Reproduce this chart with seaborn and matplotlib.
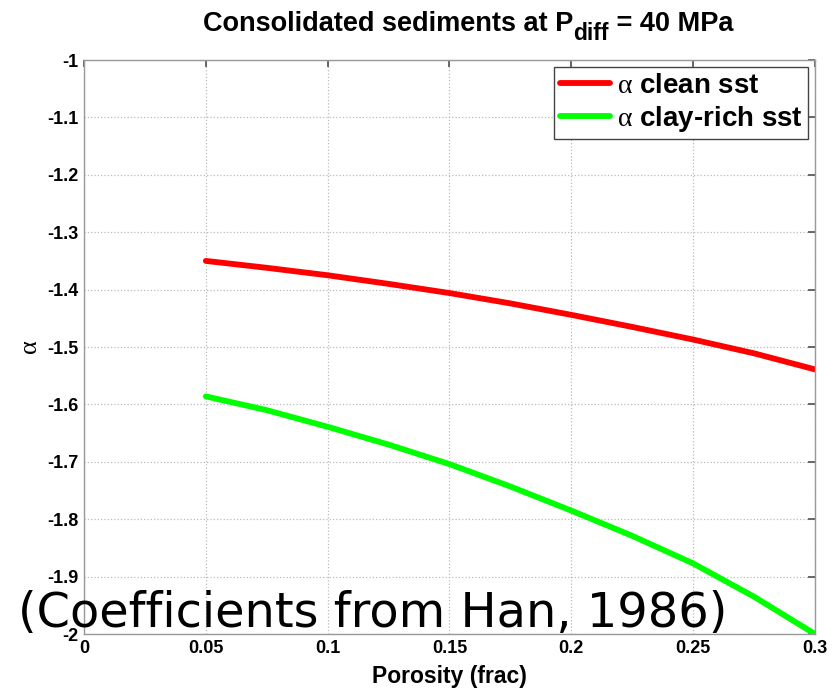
import matplotlib
matplotlib.use("Agg")
import matplotlib.pyplot as plt
import seaborn as sns
import pandas as pd

porosity = [0.05, 0.075, 0.1, 0.125, 0.15, 0.175, 0.2, 0.225, 0.25, 0.275, 0.3]
alpha_clean = [-1.350, -1.362, -1.375, -1.390, -1.406, -1.424, -1.444, -1.465, -1.487, -1.511, -1.539]
alpha_clay = [-1.586, -1.610, -1.639, -1.670, -1.704, -1.743, -1.785, -1.829, -1.877, -1.935, -2.000]
series_names = [r"$\alpha$ clean sst", r"$\alpha$ clay-rich sst"]
xticks = [0, 0.05, 0.1, 0.15, 0.2, 0.25, 0.3]
xticklabels = ["0", "0.05", "0.1", "0.15", "0.2", "0.25", "0.3"]
yticks = [-2, -1.9, -1.8, -1.7, -1.6, -1.5, -1.4, -1.3, -1.2, -1.1, -1]
yticklabels = ["-2", "-1.9", "-1.8", "-1.7", "-1.6", "-1.5", "-1.4", "-1.3", "-1.2", "-1.1", "-1"]
title_parts = ["Consolidated sediments at P", "diff", " = 40 MPa"]

df = pd.DataFrame({
    "Porosity": porosity + porosity,
    "alpha": alpha_clean + alpha_clay,
    "series": [series_names[0]] * len(porosity) + [series_names[1]] * len(porosity),
})

sns.set_theme(style="white")
plt.rcParams["font.family"] = ["Liberation Sans", "DejaVu Sans"]
plt.rcParams["mathtext.fontset"] = "custom"
plt.rcParams["mathtext.rm"] = "Liberation Sans"
plt.rcParams["mathtext.bf"] = "Liberation Sans:bold"
plt.rcParams["mathtext.it"] = "Liberation Serif"
for k in ["text.color", "axes.labelcolor", "xtick.color", "ytick.color"]:
    plt.rcParams[k] = "black"

fig = plt.figure(figsize=(8.4, 6.89), dpi=100)
ax = fig.add_axes([0.1, 0.0798, 0.8702, 0.8331])

sns.lineplot(data=df, x="Porosity", y="alpha", hue="series",
             palette={series_names[0]: "#ff0000", series_names[1]: "#00ff00"},
             linewidth=4.2, ax=ax)

ax.set_xlim(0, 0.3)
ax.set_ylim(-2, -1)
ax.set_xticks(xticks)
ax.set_xticklabels(xticklabels)
ax.set_yticks(yticks)
ax.set_yticklabels(yticklabels)
for lab in ax.get_xticklabels() + ax.get_yticklabels():
    lab.set_fontweight("bold")
    lab.set_fontsize(13)
ax.tick_params(direction="in", length=5, color="#555555", top=True, right=True,
               pad=4, labelcolor="black")
ax.grid(True, linestyle=":", color="#bbbbbb", linewidth=0.9)
for s in ax.spines.values():
    s.set_color("#999999")
    s.set_linewidth(1.0)

ax.set_xlabel("Porosity (frac)", fontsize=16.5, fontweight="bold", labelpad=6)
ax.set_ylabel(r"$\alpha$", fontsize=19, labelpad=4)

leg = ax.legend(loc="upper right", fontsize=20, frameon=True, fancybox=False,
                framealpha=1, edgecolor="#444444", handlelength=1.8,
                borderaxespad=0.25, labelspacing=0.18, handletextpad=0.25,
                borderpad=0.2)
for t in leg.get_texts():
    t.set_fontweight("bold")
leg.get_frame().set_linewidth(1.0)

# Title with large subscript, composed from pieces
fig.canvas.draw()
renderer = fig.canvas.get_renderer()
title_y = 1 - 31 / 689
sizes = [19.5, 16.5, 19.5]
offsets = [0, -9, 0]
pieces = []
x = 0
for txt, fs, off in zip(title_parts, sizes, offsets):
    t = fig.text(0, title_y + off / 689, txt, fontsize=fs, fontweight="bold",
                 ha="left", va="baseline")
    w = t.get_window_extent(renderer).width
    pieces.append((t, x))
    x += w
total = x
start = 468 - total / 2
for t, xo in pieces:
    t.set_x((start + xo) / 840)

fig.text(18 / 840, 1 - 627 / 689, "(Coefficients from Han, 1986)",
         fontsize=34.5, family="DejaVu Sans", ha="left", va="baseline")

fig.savefig("out.png", dpi=100)
